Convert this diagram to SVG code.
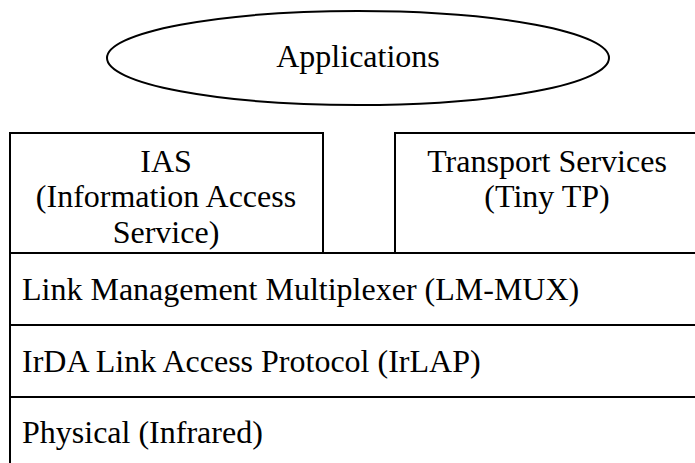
<svg xmlns="http://www.w3.org/2000/svg" width="695" height="463" viewBox="0 0 695 463">
  <style>
    .box { fill: #ffffff; stroke: #000000; stroke-width: 2; }
    .lbl { font-family: "Liberation Serif", "Times New Roman", serif; font-size: 32px; fill: #000000; }
    .mid { text-anchor: middle; }
  </style>
  <rect width="695" height="463" fill="#ffffff"/>

  <g id="applications">
    <ellipse class="box" cx="358" cy="58" rx="251" ry="47"/>
    <text class="lbl mid" x="358" y="67">Applications</text>
  </g>

  <g id="ias">
    <rect class="box" x="10" y="133" width="313" height="120"/>
    <text class="lbl mid" x="166" y="172">IAS</text>
    <text class="lbl mid" x="166" y="207">(Information Access</text>
    <text class="lbl mid" x="166" y="243">Service)</text>
  </g>

  <g id="transport">
    <rect class="box" x="395" y="133" width="310" height="120"/>
    <text class="lbl mid" x="547" y="172">Transport Services</text>
    <text class="lbl mid" x="547" y="207">(Tiny TP)</text>
  </g>

  <g id="lmmux">
    <rect class="box" x="10" y="253" width="695" height="72"/>
    <text class="lbl" x="22" y="300">Link Management Multiplexer (LM-MUX)</text>
  </g>

  <g id="irlap">
    <rect class="box" x="10" y="325" width="695" height="72"/>
    <text class="lbl" x="22" y="372">IrDA Link Access Protocol (IrLAP)</text>
  </g>

  <g id="physical">
    <rect class="box" x="10" y="397" width="695" height="80"/>
    <text class="lbl" x="22" y="443">Physical (Infrared)</text>
  </g>

  <g id="connectors"/>
</svg>
